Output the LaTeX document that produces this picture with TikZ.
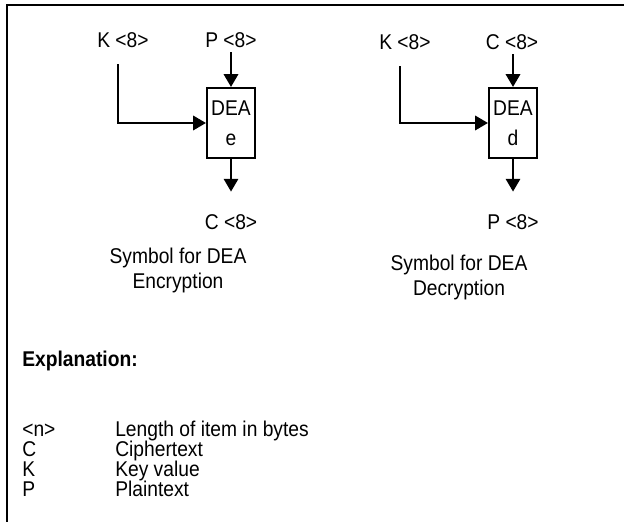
\documentclass[tikz,border=0pt]{standalone}
\usepackage{fontspec}
\setmainfont{Liberation Sans}[FakeStretch=0.9]
\usepackage{xcolor}
\definecolor{deaInk}{HTML}{000000}
\usepackage{tikz}
\usetikzlibrary{arrows.meta,calc,positioning}

\begin{document}
\begin{tikzpicture}[>={Triangle[length=0.32cm,width=0.36cm]},
    font=\fontsize{15.2}{18}\selectfont,
    lbl/.style={inner sep=0.1cm,anchor=base},
    deabox/.style={draw=deaInk,line width=1.5pt,inner sep=0pt,minimum width=1.2cm,minimum height=1.75cm,align=center,font=\fontsize{15.2}{21.3}\selectfont},
    conn/.style={->,deaInk,line width=1.5pt}]
  \path[use as bounding box] (0,0) rectangle (15.6,13.175);

  % frame
  \draw[deaInk,line width=1.5pt] (15.6,13.05) -- (0.175,13.05) -- (0.175,0.125);

  % encryption
  \begin{scope}
    \node[lbl] (kEnc) at (3.075,11.975) {K <8>};
    \node[lbl] (pEnc) at (5.775,11.975) {P <8>};
    \node[deabox] (deaEnc) at (5.775,10.1) {DEA\\e};
    \node[lbl] (cEnc) at (5.775,7.425) {C <8>};
    \node[align=center,inner sep=0pt] (symEnc) at (4.45,6.42) {Symbol for DEA\\Encryption};

    \draw[conn] (deaEnc.north |- pEnc.south) -- (deaEnc.north);
    \draw[conn] ([xshift=-0.125cm,yshift=-0.3cm]kEnc.south) |- (deaEnc.west);
    \draw[conn,shorten >=0.48cm] (deaEnc.south) -- (deaEnc.south |- cEnc.north);
  \end{scope}

  % decryption
  \begin{scope}
    \node[lbl] (kDec) at (10.125,11.925) {K <8>};
    \node[lbl] (cDec) at (12.8,11.925) {C <8>};
    \node[deabox] (deaDec) at (12.825,10.1) {DEA\\d};
    \node[lbl] (pDec) at (12.825,7.425) {P <8>};
    \node[align=center,inner sep=0pt] (symDec) at (11.475,6.24) {Symbol for DEA\\Decryption};

    \draw[conn] (deaDec.north |- cDec.south) -- (deaDec.north);
    \draw[conn] ([xshift=-0.125cm,yshift=-0.3cm]kDec.south) |- (deaDec.west);
    \draw[conn,shorten >=0.48cm] (deaDec.south) -- (deaDec.south |- pDec.north);
  \end{scope}

  % explanation
  \node[anchor=base west,inner sep=0pt,font=\fontsize{15.2}{18}\selectfont\bfseries] (expl) at (0.55,4.0) {Explanation:};
  \node[anchor=base west,inner sep=0pt] (symN) at (0.55,2.25) {<n>};
  \node[anchor=base west,inner sep=0pt] (symC) at (0.55,1.75) {C};
  \node[anchor=base west,inner sep=0pt] (symK) at (0.55,1.25) {K};
  \node[anchor=base west,inner sep=0pt] (symP) at (0.55,0.75) {P};
  \node[anchor=base west,inner sep=0pt] (txtN) at (2.875,2.25) {Length of item in bytes};
  \node[anchor=base west,inner sep=0pt] (txtC) at (2.875,1.75) {Ciphertext};
  \node[anchor=base west,inner sep=0pt] (txtK) at (2.875,1.25) {Key value};
  \node[anchor=base west,inner sep=0pt] (txtP) at (2.875,0.75) {Plaintext};
\end{tikzpicture}
\end{document}
